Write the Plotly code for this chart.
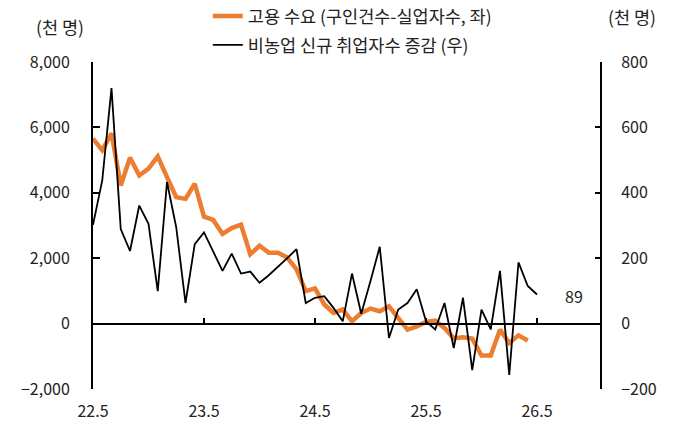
import plotly.graph_objects as go

# ---- data ----
x_labels = ["22.5", "23.5", "24.5", "25.5", "26.5"]
label_idx = [0, 12, 24, 36, 48]

demand = [5660, 5300, 5815, 4225, 5075, 4530, 4740, 5115, 4480, 3865, 3815, 4277,
          3270, 3170, 2740, 2920, 3025, 2120, 2380, 2170, 2170, 2020, 1660, 995,
          1075, 585, 325, 430, 70, 325, 460, 378, 530, 155, -185, -85,
          50, 90, -135, -450, -420, -460, -975, -975, -185, -595, -360, -515]

payrolls = [302, 438, 720, 289, 222, 361, 305, 99, 433, 294, 63, 243,
            279, 220, 161, 214, 153, 159, 125, 148, 173, 200, 228, 63,
            79, 84, 48, 7, 153, 30, 130, 235, -44, 43, 63, 105,
            7, -18, 63, -75, 79, -142, 43, -18, 161, -157, 187, 115, 89]

name_demand = "고용 수요 (구인건수-실업자수, 좌)"
name_pay = "비농업 신규 취업자수 증감 (우)"

FONT = "Noto Sans CJK KR"
ORANGE = "#ED7D31"
TXT = "#222"

x_dem = list(range(len(demand)))
x_pay = list(range(len(payrolls)))
xr = [0, 54.92]
zero_frac = (0 - (-2000)) / (8000 - (-2000))

fig = go.Figure()
fig.add_trace(go.Scatter(x=x_dem, y=demand, mode="lines", name=name_demand,
                         line=dict(color=ORANGE, width=4.5),
                         xaxis="x", yaxis="y", legendgroup="a"))
fig.add_trace(go.Scatter(x=x_pay, y=payrolls, mode="lines", name=name_pay,
                         line=dict(color="black", width=1.8),
                         xaxis="x2", yaxis="y2", legendgroup="b"))

fig.update_layout(
    width=679, height=431,
    margin=dict(l=93, r=78, t=62, b=42, autoexpand=False),
    paper_bgcolor="white", plot_bgcolor="white",
    font=dict(family=FONT, size=16, color=TXT),
    showlegend=True,
    legend=dict(x=0.226, y=1.195, xanchor="left", yanchor="top",
                bgcolor="rgba(0,0,0,0)", tracegroupgap=3,
                font=dict(size=17.5, family=FONT, color=TXT)),
    xaxis=dict(range=xr, showline=False, showgrid=False, zeroline=False,
               tickvals=label_idx, ticktext=x_labels, ticks="",
               ticklabelstandoff=11, tickfont=dict(size=16)),
    xaxis2=dict(range=xr, overlaying="x", anchor="free", position=zero_frac,
                showline=True, linecolor="black", linewidth=2,
                showgrid=False, zeroline=False, showticklabels=False,
                tickvals=label_idx, ticks="inside", ticklen=5, tickwidth=1.5,
                tickcolor="black"),
    yaxis=dict(range=[-2000, 8000], dtick=2000, tickformat=",",
               showline=True, linecolor="black", linewidth=2,
               showgrid=False, zeroline=False,
               ticks="inside", ticklen=7, tickwidth=2, tickcolor="black",
               ticklabelstandoff=18, tickfont=dict(size=16)),
    yaxis2=dict(range=[-200, 800], dtick=200, overlaying="y", side="right",
                anchor="free", position=1,
                showline=True, linecolor="black", linewidth=2,
                showgrid=False, zeroline=False,
                ticks="inside", ticklen=5, tickwidth=2, tickcolor="black",
                ticklabelstandoff=16, tickfont=dict(size=16)),
)

fig.add_annotation(x=x_pay[-1], y=payrolls[-1], xref="x2", yref="y2",
                   text=str(payrolls[-1]), showarrow=False, xshift=37, yshift=-1,
                   font=dict(size=16, color=TXT, family=FONT))
fig.add_annotation(x=(60 - 93) / 508, y=(389 - 27) / 327, xref="paper", yref="paper",
                   xanchor="center", yanchor="middle",
                   text="(천 명)", showarrow=False,
                   font=dict(size=17.5, color=TXT, family=FONT))
fig.add_annotation(x=(632 - 93) / 508, y=(389 - 17) / 327, xref="paper", yref="paper",
                   xanchor="center", yanchor="middle",
                   text="(천 명)", showarrow=False,
                   font=dict(size=17.5, color=TXT, family=FONT))

fig.write_html("out.html")
